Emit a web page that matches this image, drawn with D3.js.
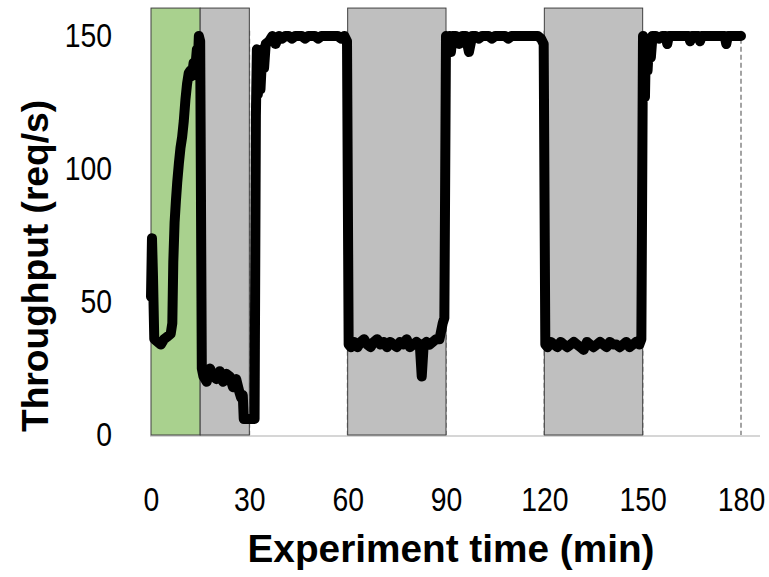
<!DOCTYPE html>
<html>
<head>
<meta charset="utf-8">
<script src="https://cdn.jsdelivr.net/npm/d3@7/dist/d3.min.js"></script>
<style>
  body { margin: 0; background: #fff; }
  text { font-family: "Liberation Sans", Arial, sans-serif; fill: #000; }
</style>
</head>
<body>
<script>
// experiment minutes and measured throughput (req/s)
var times = [
  0, 0.3, 0.6, 1, 2, 3, 4, 5, 6, 6.5, 6.8, 7.2, 7.6, 8, 8.5, 9, 9.5, 10, 10.5, 11, 11.5, 12, 12.5, 13, 13.5, 14, 14.3, 14.6, 15, 15.2,
  15.5, 16, 17, 18, 19, 20, 21, 22, 23, 24, 25, 26, 27, 27.5, 28, 28.3, 29, 30, 31, 31.6,
  32, 32.3, 32.6, 33, 33.4, 34, 34.5, 35, 36, 37, 38, 39, 40, 41, 42, 43, 44, 45, 46, 47, 48, 49, 50, 51, 52, 53, 54, 55, 56, 57, 58, 59, 59.8,
  60.3, 61, 62, 63, 64, 65, 66, 67, 68, 69, 70, 71, 72, 73, 74, 75, 76, 77, 78, 79, 80, 81, 82, 82.6, 83.2, 84, 85, 86, 87, 88, 89, 89.5,
  90, 90.5, 91, 91.5, 92, 93, 94, 95, 96, 97, 98, 99, 100, 101, 102, 103, 104, 105, 106, 107, 108, 109, 110, 111, 112, 113, 114, 115, 116, 117, 118, 119, 119.8,
  120.3, 121, 122, 123, 124, 125, 126, 127, 128, 129, 130, 131, 132, 133, 134, 135, 136, 137, 138, 139, 140, 141, 142, 143, 144, 145, 146, 147, 148, 149, 149.6,
  150.1, 150.4, 150.7, 151, 151.5, 152, 152.5, 153, 154, 155, 156, 157, 157.5, 158, 159, 160, 161, 162, 163, 164, 164.5, 165, 166, 167, 167.5, 168, 169, 170, 171, 172, 173, 174, 175, 175.5, 176, 177, 178, 179, 180
];
var throughput = [
  52, 74, 60, 36, 35, 34, 36, 37, 38, 42, 65, 80, 88, 95, 102, 108, 112, 118, 126, 132, 136, 137, 135, 140, 138, 145, 140, 150, 148, 100,
  25, 22, 20, 25, 22, 21, 24, 20, 23, 22, 18, 21, 16, 14, 15, 6, 6, 6, 6, 6,
  120, 145, 128, 140, 130, 145, 138, 147, 148, 150, 147, 150, 149, 150, 150, 149, 150, 150, 150, 149, 150, 150, 150, 149, 150, 150, 150, 150, 150, 150, 149, 150, 148,
  34, 33, 35, 33, 35, 36, 34, 33, 35, 36, 34, 35, 33, 35, 34, 33, 35, 34, 36, 33, 34, 35, 34, 22, 34, 35, 34, 35, 36, 36, 42, 44,
  150, 147, 150, 144, 150, 150, 147, 150, 150, 144, 150, 150, 149, 150, 150, 150, 149, 150, 150, 150, 150, 149, 150, 150, 150, 150, 150, 150, 150, 150, 150, 149, 147,
  34, 33, 35, 34, 33, 35, 34, 33, 34, 35, 34, 33, 32, 35, 34, 33, 34, 35, 34, 33, 35, 34, 34, 33, 34, 35, 33, 34, 35, 34, 36,
  150, 145, 127, 148, 137, 149, 142, 150, 150, 149, 150, 150, 147, 150, 150, 150, 150, 150, 150, 150, 148, 150, 150, 150, 148, 150, 150, 150, 150, 150, 150, 150, 150, 147, 150, 150, 150, 150, 150
];

// experiment phases (shaded bands)
var phaseStart = [0, 15, 60, 120];
var phaseEnd = [15, 30, 90, 150];
var phaseColor = ["#a9d18e", "#bfbfbf", "#bfbfbf", "#bfbfbf"];
var phaseTop = 160.5;

var markers = [30, 60, 90, 120, 150, 180];
var xTicks = [0, 30, 60, 90, 120, 150, 180];
var yTicks = [0, 50, 100, 150];

var width = 769, height = 577;

var svg = d3.select("body").append("svg")
  .attr("width", width)
  .attr("height", height);

var x = d3.scaleLinear().domain([0, 180]).range([151, 741]);
var y = d3.scaleLinear().domain([0, 150]).range([435, 36]);

var phases = phaseStart.map(function (s, i) {
  return { start: s, end: phaseEnd[i], color: phaseColor[i] };
});

// baseline
svg.append("line")
  .attr("x1", x(0) - 1).attr("x2", 760)
  .attr("y1", y(0) + 1).attr("y2", y(0) + 1)
  .attr("stroke", "#c8c8c8").attr("stroke-width", 1.5);

svg.append("g").selectAll("line")
  .data(markers)
  .enter().append("line")
  .attr("x1", function (d) { return x(d); })
  .attr("x2", function (d) { return x(d); })
  .attr("y1", y(152))
  .attr("y2", y(0))
  .attr("stroke", "#9a9a9a")
  .attr("stroke-width", 1.8)
  .attr("stroke-dasharray", "5,3");

svg.append("g").selectAll("rect")
  .data(phases)
  .enter().append("rect")
  .attr("x", function (d) { return x(d.start); })
  .attr("width", function (d) { return x(d.end) - x(d.start); })
  .attr("y", y(phaseTop))
  .attr("height", y(0) - y(phaseTop))
  .attr("fill", function (d) { return d.color; })
  .attr("stroke", "#404040")
  .attr("stroke-width", 1);

var points = times.map(function (t, i) { return [t, throughput[i]]; });

svg.append("path")
  .datum(points)
  .attr("fill", "none")
  .attr("stroke", "#000")
  .attr("stroke-width", 10)
  .attr("stroke-linejoin", "round")
  .attr("stroke-linecap", "round")
  .attr("d", d3.line()
    .x(function (d) { return x(d[0]); })
    .y(function (d) { return y(d[1]); }));

// narrow digits, like the original typeface
function squeeze(sel) {
  sel.style("font-family", "Liberation Sans, Arial, sans-serif")
    .style("font-size", "33px")
    .attr("transform", "scale(0.86,1)");
}

// axes (labels only)
var xAxis = d3.axisBottom(x).tickValues(xTicks).tickSize(0).tickPadding(0);
svg.append("g")
  .attr("transform", "translate(0,488)")
  .call(xAxis)
  .call(function (g) { g.select(".domain").remove(); })
  .selectAll("text")
  .attr("dy", "0.71em")
  .call(squeeze);

var yAxis = d3.axisLeft(y).tickValues(yTicks).tickSize(0).tickPadding(0);
svg.append("g")
  .attr("transform", "translate(112,0)")
  .call(yAxis)
  .call(function (g) { g.select(".domain").remove(); })
  .selectAll("text")
  .call(squeeze);

svg.append("text")
  .attr("x", 451)
  .attr("y", 562)
  .attr("text-anchor", "middle")
  .attr("lengthAdjust", "spacingAndGlyphs")
  .attr("textLength", 407)
  .style("font-size", "38px")
  .style("font-weight", "bold")
  .text("Experiment time (min)");

svg.append("text")
  .attr("transform", "translate(48,266) rotate(-90)")
  .attr("text-anchor", "middle")
  .attr("lengthAdjust", "spacingAndGlyphs")
  .attr("textLength", 332)
  .style("font-size", "36px")
  .style("font-weight", "bold")
  .text("Throughput (req/s)");
</script>
</body>
</html>
